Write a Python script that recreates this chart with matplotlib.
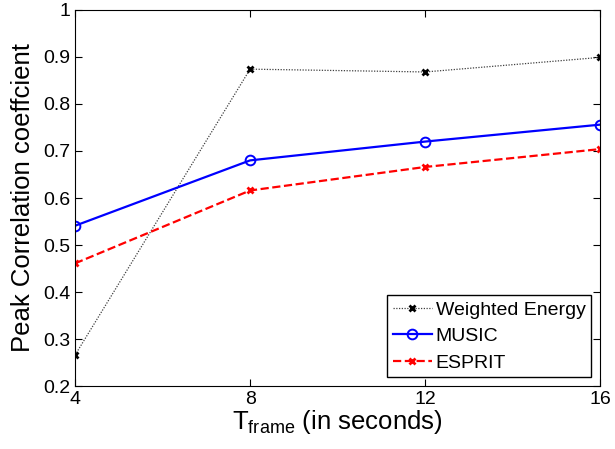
import matplotlib.pyplot as plt

plt.rcParams["font.family"] = ["Liberation Sans", "DejaVu Sans"]
plt.rcParams["mathtext.fontset"] = "custom"
plt.rcParams["mathtext.rm"] = "Liberation Sans"

t_frame = [4, 8, 12, 16]
weighted_energy = [0.266, 0.874, 0.868, 0.899]
music = [0.541, 0.680, 0.720, 0.756]
esprit = [0.461, 0.616, 0.666, 0.704]

fig = plt.figure(figsize=(6.15, 4.49), dpi=100)
ax = fig.add_axes([0.122, 0.14, 0.854, 0.838])

ax.plot(t_frame, weighted_energy, color="0.25", linestyle=(0, (1, 1.2)), linewidth=0.9,
        marker="x", markersize=4, markeredgewidth=2, markeredgecolor="black",
        label="Weighted Energy")
ax.plot(t_frame, music, color="blue", linestyle="-", linewidth=1.6,
        marker="o", markersize=7, markerfacecolor="none", markeredgewidth=1.4,
        label="MUSIC")
ax.plot(t_frame, esprit, color="red", linestyle="--", linewidth=1.6,
        marker="x", markersize=4, markeredgewidth=2, label="ESPRIT")

ax.set_xlim(4, 16)
ax.set_ylim(0.2, 1.0)
ax.set_xticks([4, 8, 12, 16])
ax.set_yticks([0.2, 0.3, 0.4, 0.5, 0.6, 0.7, 0.8, 0.9, 1.0])
ax.set_yticklabels(["0.2", "0.3", "0.4", "0.5", "0.6", "0.7", "0.8", "0.9", "1"])
ax.tick_params(direction="in", top=True, right=True, labelsize=14, length=5)

ax.set_xlabel(r"T$_{\mathrm{frame}}$ (in seconds)", fontsize=18.5, labelpad=0)
ax.set_ylabel("Peak Correlation coeffcient", fontsize=18.5, labelpad=6)

leg = ax.legend(loc="lower right", fontsize=14, fancybox=False, framealpha=1,
                edgecolor="black", borderpad=0.3, handlelength=2.0,
                handletextpad=0.2, labelspacing=0.45, borderaxespad=0.45)
leg.get_frame().set_linewidth(1.0)

fig.savefig("out.png", dpi=100)
